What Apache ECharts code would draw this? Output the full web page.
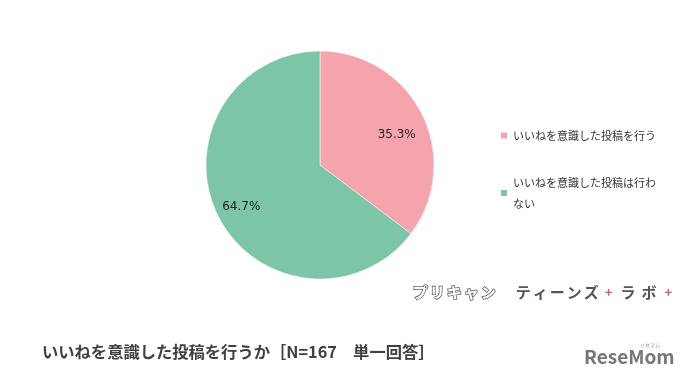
<!DOCTYPE html>
<html><head><meta charset="utf-8">
<script src="https://cdn.jsdelivr.net/npm/echarts@6/dist/echarts.min.js"></script>
<style>html,body{margin:0;padding:0;background:#fff}#c{width:695px;height:386px}</style>
</head><body><div id="c"></div>
<script>
const categories = ['いいねを意識した投稿を行う', 'いいねを意識した投稿は行わない'];
const values = [35.3, 64.7];
const colors = ['#F5A3AD', '#7CC5A6'];
const titleText = 'いいねを意識した投稿を行うか［N=167　単一回答］';
const labelOffsets = [[23, -3], [-25, 15]];

const font = '"Noto Sans CJK JP", "Noto Sans", sans-serif';
function charTokens(str, style) {
  return str.split('').map(c => '{' + style + '|' + c + '}').join('');
}
const logoText = charTokens('プリキャン', 'g') + '{sp| }' + charTokens('ティーンズ', 'd') + '{p|+}' + charTokens('ラボ', 'd2') + '{p|+}';

const chart = echarts.init(document.getElementById('c'), null, {renderer: 'canvas'});
chart.setOption({
  backgroundColor: '#ffffff',
  animation: false,
  legend: {
    orient: 'vertical', left: 494, top: 120, itemWidth: 8, itemHeight: 8, icon: 'rect',
    itemGap: 26,
    textStyle: {fontFamily: font, fontSize: 11, color: '#333', width: 150, overflow: 'break', lineHeight: 21},
    data: categories
  },
  graphic: [
    {type: 'text', left: 42, top: 344, style: {text: titleText, font: 'bold 16.3px ' + font, fill: '#404040'}},
    {type: 'text', left: 412, top: 284, style: {
      text: logoText,
      rich: {
        g: {fontFamily: font, fontSize: 15, fill: '#fff', stroke: '#666', lineWidth: 1.6, fontWeight: 'bold', padding: [0, 1]},
        d: {fontFamily: font, fontSize: 15, fill: '#555', fontWeight: 'bold', padding: [0, 1]},
        d2: {fontFamily: font, fontSize: 15, fill: '#555', fontWeight: 'bold', padding: [0, 3]},
        sp: {fontSize: 15, width: 18},
        p: {fontFamily: font, fontSize: 13, fill: '#e0508a', fontWeight: 'bold', padding: [0, 5]}
      }}},
    {type: 'text', left: 584, top: 347, style: {text: 'ReseMom', font: 'bold 19px ' + font, fill: '#777'}},
    {type: 'text', left: 640, top: 343, style: {text: 'リセマム', font: '5px ' + font, fill: '#888'}}
  ],
  series: [{
    type: 'pie', center: [320, 165], radius: 114, startAngle: 90, clockwise: true,
    label: {position: 'inside', formatter: p => p.value.toFixed(1) + '%', fontFamily: '"DejaVu Sans", sans-serif', fontSize: 12, color: '#222'},
    labelLine: {show: false},
    itemStyle: {borderColor: '#fff', borderWidth: 0.5},
    emphasis: {disabled: true},
    data: categories.map((n, i) => ({name: n, value: values[i], itemStyle: {color: colors[i]}, label: {offset: labelOffsets[i]}}))
  }]
});
</script></body></html>
